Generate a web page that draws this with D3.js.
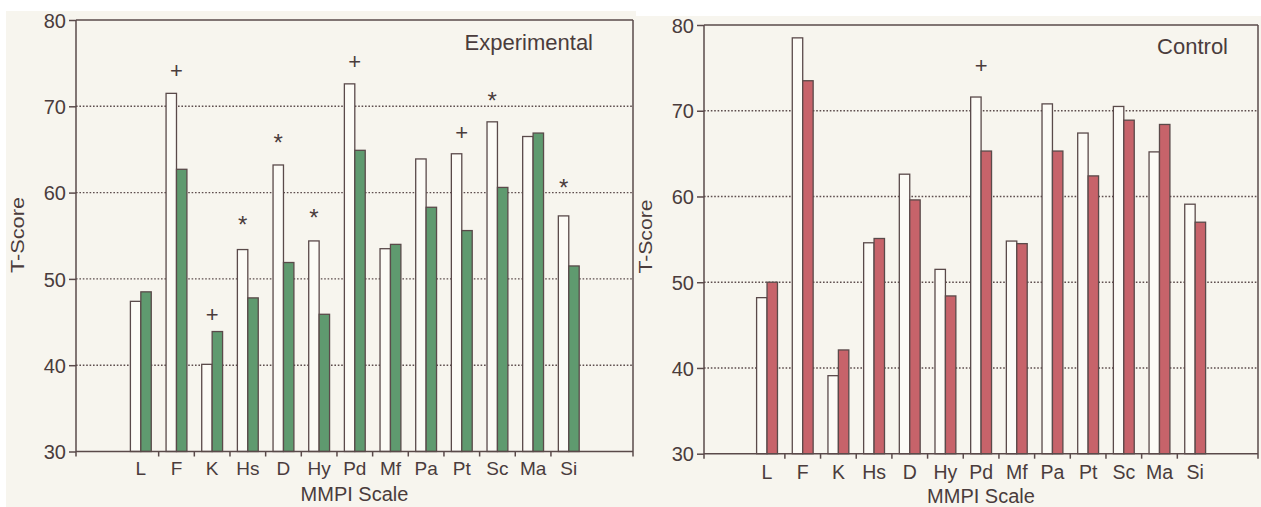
<!DOCTYPE html>
<html><head><meta charset="utf-8">
<script src="https://cdn.jsdelivr.net/npm/d3@7"></script>
<style>
html,body{margin:0;padding:0;background:#ffffff;}
svg{display:block;}
text{font-family:"Liberation Sans",Arial,sans-serif;fill:#4a3c3c;}
</style></head>
<body>
<svg id="chart" width="1261" height="507"></svg>
<script>
const categories = ["L","F","K","Hs","D","Hy","Pd","Mf","Pa","Pt","Sc","Ma","Si"];
const expPre  = [47.4,71.5,40.1,53.4,63.2,54.4,72.6,53.5,63.9,64.5,68.2,66.5,57.3];
const expPost = [48.5,62.7,43.9,47.8,51.9,45.9,64.9,54.0,58.3,55.6,60.6,66.9,51.5];
const ctlPre  = [48.2,78.5,39.1,54.6,62.6,51.5,71.6,54.8,70.8,67.4,70.5,65.2,59.1];
const ctlPost = [50.0,73.5,42.1,55.1,59.6,48.4,65.3,54.5,65.3,62.4,68.9,68.4,57.0];
const yTicks = [30,40,50,60,70,80];
const gridTicks = [40,50,60,70];
const expMarkScales  = ["F","K","Hs","D","Hy","Pd","Pt","Sc","Si"];
const expMarkSymbols = ["+","+","*","*","*","+","+","*","*"];
const expMarkLevels  = [74.2,45.9,56.9,66.4,57.7,75.2,67.0,71.3,61.2];
const ctlMarkScales  = ["Pd"];
const ctlMarkSymbols = ["+"];
const ctlMarkLevels  = [75.3];
const titles = ["Experimental","Control"];
const xTitle = "MMPI Scale";
const yTitle = "T-Score";

const INK = "#4a3c3c", LINE = "#5a4a4a", CREAM = "#f7f5ee", WHITE = "#fcfbf6";
const svg = d3.select("#chart");

svg.append("rect").attr("x",6).attr("y",11).attr("width",630).attr("height",496).attr("fill",CREAM);
svg.append("rect").attr("x",636).attr("y",16).attr("width",625).attr("height",491).attr("fill",CREAM);

const panels = [
  {pre:expPre, post:expPost, fill:"#5f9a6f", title:titles[0],
   marks:[expMarkScales,expMarkSymbols,expMarkLevels],
   x0:76, x1:633, yTop:20, yBot:451.5, b0:123, b1:586.6,
   tickFs:20, catFs:19, catDy:23.5, xtDy:49.5, ytX:24, ytY:235, ytLen:76,
   titleX:593, titleY:50},
  {pre:ctlPre, post:ctlPost, fill:"#c7636a", title:titles[1],
   marks:[ctlMarkScales,ctlMarkSymbols,ctlMarkLevels],
   x0:704, x1:1258, yTop:25, yBot:453.7, b0:749.2, b1:1213.0,
   tickFs:20, catFs:19.5, catDy:25.5, xtDy:49.3, ytX:652, ytY:236.5, ytLen:74,
   titleX:1228, titleY:54}
];

panels.forEach(p => {
  const g = svg.append("g");
  const y = d3.scaleLinear().domain([30,80]).range([p.yBot,p.yTop]);
  const x = d3.scaleBand().domain(categories).range([p.b0,p.b1]).paddingInner(0).paddingOuter(0);
  const xs = d3.scaleBand().domain(["pre","post"]).range([0,x.bandwidth()]).paddingInner(0).paddingOuter(0.71);

  // grid
  g.selectAll(".grid").data(gridTicks).join("line")
    .attr("x1",p.x0).attr("x2",p.x1).attr("y1",d=>y(d)).attr("y2",d=>y(d))
    .attr("stroke","#5e4e4e").attr("stroke-width",1.4).attr("stroke-dasharray","1.6,1.8");

  // bars
  const rows = categories.map((c,i)=>({c, pre:p.pre[i], post:p.post[i]}));
  g.selectAll(".pre").data(rows).join("rect")
    .attr("x",d=>x(d.c)+xs("pre")).attr("width",xs.bandwidth())
    .attr("y",d=>y(d.pre)).attr("height",d=>y(30)-y(d.pre))
    .attr("fill",WHITE).attr("stroke",LINE).attr("stroke-width",1.3);
  g.selectAll(".post").data(rows).join("rect")
    .attr("x",d=>x(d.c)+xs("post")).attr("width",xs.bandwidth())
    .attr("y",d=>y(d.post)).attr("height",d=>y(30)-y(d.post))
    .attr("fill",p.fill).attr("stroke",LINE).attr("stroke-width",1.3);

  // frame
  const fr = g.append("g").attr("stroke",LINE).attr("stroke-width",1.5).attr("fill","none");
  fr.append("line").attr("x1",p.x0).attr("x2",p.x0).attr("y1",p.yTop).attr("y2",p.yBot+5);
  fr.append("line").attr("x1",p.x1).attr("x2",p.x1).attr("y1",p.yTop).attr("y2",p.yBot+5);
  fr.append("line").attr("x1",p.x0).attr("x2",p.x1).attr("y1",p.yTop).attr("y2",p.yTop);
  fr.append("line").attr("x1",p.x0).attr("x2",p.x1).attr("y1",p.yBot).attr("y2",p.yBot);
  fr.selectAll(".xt").data(categories.slice(1)).join("line")
    .attr("x1",d=>x(d)).attr("x2",d=>x(d)).attr("y1",p.yBot).attr("y2",p.yBot+5);

  // y axis
  const ya = g.append("g").attr("transform",`translate(${p.x0},0)`)
    .call(d3.axisLeft(y).tickValues(yTicks).tickSize(7).tickSizeOuter(0).tickPadding(3));
  ya.select(".domain").remove();
  ya.selectAll(".tick line").attr("stroke",LINE).attr("stroke-width",1.5);
  ya.selectAll(".tick text").attr("font-size",p.tickFs).attr("fill",INK)
    .attr("font-family","Liberation Sans, Arial, sans-serif").attr("dy","0.36em");

  // x axis labels
  const xa = g.append("g").attr("transform",`translate(0,${p.yBot})`)
    .call(d3.axisBottom(x).tickSize(0).tickPadding(0));
  xa.select(".domain").remove();
  xa.selectAll(".tick text").attr("font-size",p.catFs).attr("fill",INK)
    .attr("font-family","Liberation Sans, Arial, sans-serif")
    .attr("dy",null).attr("y",p.catDy);

  // titles
  g.append("text").attr("x",(p.x0+p.x1)/2).attr("y",p.yBot+p.xtDy)
    .attr("text-anchor","middle").attr("font-size",20).text(xTitle);
  g.append("text").attr("transform",`translate(${p.ytX},${p.ytY}) rotate(-90)`)
    .attr("text-anchor","middle").attr("font-size",18)
    .attr("textLength",p.ytLen).attr("lengthAdjust","spacingAndGlyphs").text(yTitle);
  g.append("text").attr("x",p.titleX).attr("y",p.titleY).attr("text-anchor","end")
    .attr("font-size",22).text(p.title);

  // significance marks
  const [ms, sy, lv] = p.marks;
  ms.forEach((c,i)=>{
    const s = sy[i];
    const cx = s === "+" ? x(c)+x.bandwidth()/2 : x(c)+xs("pre")+xs.bandwidth()/2;
    const fs = s === "+" ? 22 : 24;
    const k = s === "+" ? 0.34 : 0.575;
    g.append("text").attr("x",cx).attr("y",y(lv[i])+k*fs)
      .attr("text-anchor","middle").attr("font-size",fs).text(s);
  });
});
</script>
</body></html>
